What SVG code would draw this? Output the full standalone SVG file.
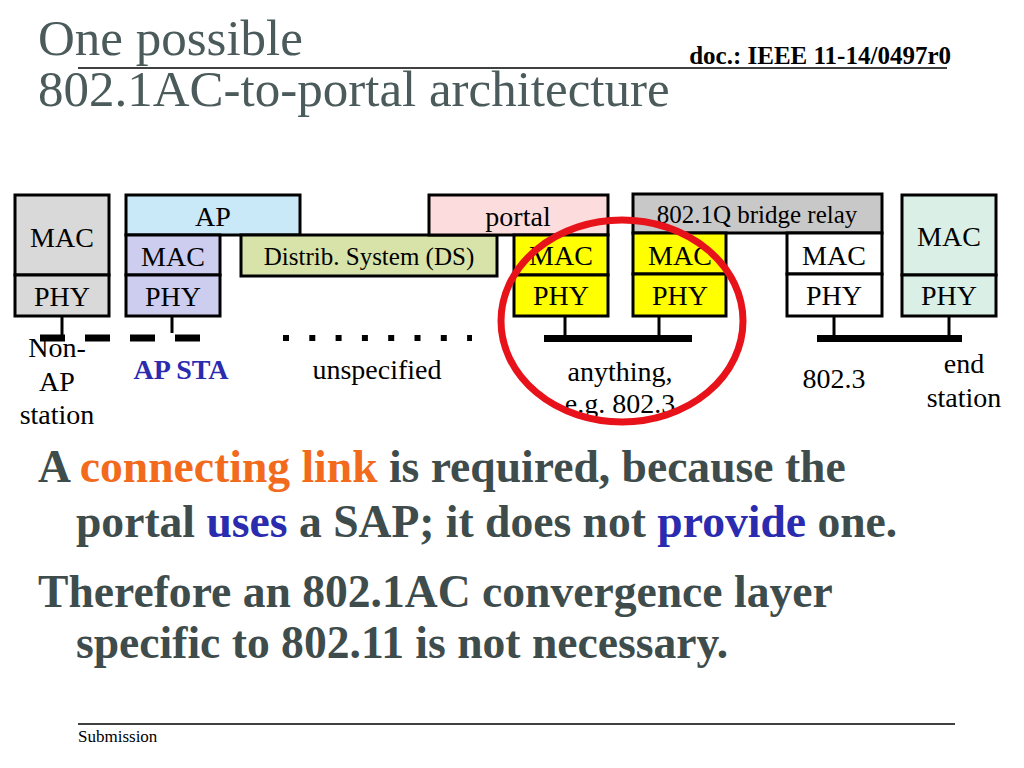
<svg xmlns="http://www.w3.org/2000/svg" width="1024" height="768" viewBox="0 0 1024 768">
<style>
.box{stroke:#000;stroke-width:3}
.t{font-family:"Liberation Serif","Times New Roman",serif;fill:#000}
.bt{font-size:28px;text-anchor:middle}
.st{font-size:25px;text-anchor:middle}
.lbl{font-size:28px;text-anchor:middle}
.title{font-family:"Liberation Serif","Times New Roman",serif;font-size:51px;fill:#4b5a5a}
.body{font-family:"Liberation Serif","Times New Roman",serif;font-size:45.6px;font-weight:bold;fill:#3f4c4c}
.stem{stroke:#000;stroke-width:3}
.bus{stroke:#000;stroke-width:7}
</style>
<rect width="1024" height="768" fill="#fff"/>
<g id="header">
<text class="title" x="38" y="55">One possible</text>
<text class="title" x="38" y="106">802.1AC-to-portal architecture</text>
<line x1="78" y1="68" x2="947" y2="68" stroke="#000" stroke-width="1.5"/>
<text class="t" x="951" y="64" font-size="25" font-weight="bold" text-anchor="end">doc.: IEEE 11-14/0497r0</text>
</g>
<g id="non-ap-station">
<rect class="box" x="15" y="195" width="94" height="80" fill="#d9d9d9"/>
<rect class="box" x="15" y="275" width="94" height="41" fill="#d9d9d9"/>
<text class="t bt" x="62" y="247">MAC</text>
<text class="t bt" x="62" y="306">PHY</text>
</g>
<g id="ap">
<rect class="box" x="126" y="195" width="174" height="40" fill="#c9e8f8"/>
<text class="t bt" x="213" y="226">AP</text>
</g>
<g id="ap-sta">
<rect class="box" x="126" y="235" width="94" height="40" fill="#cdcdf0"/>
<rect class="box" x="126" y="275" width="94" height="41" fill="#cdcdf0"/>
<text class="t bt" x="173" y="266">MAC</text>
<text class="t bt" x="173" y="306">PHY</text>
</g>
<g id="ds">
<rect class="box" x="241" y="235" width="256" height="41" fill="#d8e3a9"/>
<text class="t st" x="369" y="265">Distrib. System (DS)</text>
</g>
<g id="portal">
<rect class="box" x="429" y="195" width="179" height="40" fill="#fcdcdc"/>
<text class="t bt" x="518" y="226">portal</text>
<rect class="box" x="514" y="235" width="94" height="40" fill="#ffff00"/>
<rect class="box" x="514" y="275" width="94" height="41" fill="#ffff00"/>
<text class="t bt" x="561" y="265">MAC</text>
<text class="t bt" x="561" y="305">PHY</text>
</g>
<g id="bridge">
<rect class="box" x="633" y="194" width="249" height="39" fill="#c8c8c8"/>
<text class="t st" x="757" y="223">802.1Q bridge relay</text>
<rect class="box" x="633" y="233" width="93" height="41" fill="#ffff00"/>
<rect class="box" x="633" y="274" width="93" height="42" fill="#ffff00"/>
<text class="t bt" x="680" y="265">MAC</text>
<text class="t bt" x="680" y="305">PHY</text>
<rect class="box" x="787" y="233" width="95" height="41" fill="#ffffff"/>
<rect class="box" x="787" y="274" width="95" height="42" fill="#ffffff"/>
<text class="t bt" x="834" y="265">MAC</text>
<text class="t bt" x="834" y="305">PHY</text>
</g>
<g id="end-station">
<rect class="box" x="902" y="195" width="94" height="80" fill="#daefe5"/>
<rect class="box" x="902" y="275" width="94" height="41" fill="#daefe5"/>
<text class="t bt" x="949" y="246">MAC</text>
<text class="t bt" x="949" y="305">PHY</text>
</g>
<g id="connectors">
<line class="stem" x1="62" y1="316" x2="62" y2="338"/>
<line class="stem" x1="172" y1="316" x2="172" y2="333"/>
<line x1="40" y1="338" x2="205" y2="338" stroke="#000" stroke-width="7" stroke-dasharray="25 20"/>
<line x1="283" y1="338" x2="472" y2="338" stroke="#000" stroke-width="6" stroke-dasharray="6 20.3"/>
<line class="stem" x1="565" y1="316" x2="565" y2="338"/>
<line class="stem" x1="659" y1="316" x2="659" y2="338"/>
<line class="bus" x1="544" y1="338.5" x2="692" y2="338.5"/>
<line class="stem" x1="834" y1="316" x2="834" y2="338"/>
<line class="stem" x1="949" y1="316" x2="949" y2="338"/>
<line class="bus" x1="817" y1="338.5" x2="962" y2="338.5"/>
</g>
<g id="labels">
<text class="t lbl" x="57" y="357">Non-</text>
<text class="t lbl" x="57" y="391">AP</text>
<text class="t lbl" x="57" y="424">station</text>
<text class="t lbl" x="181" y="379" font-weight="bold" style="fill:#2b2bb0">AP STA</text>
<text class="t lbl" x="377" y="379">unspecified</text>
<text class="t lbl" x="620" y="381">anything,</text>
<text class="t lbl" x="620" y="413">e.g. 802.3</text>
<text class="t lbl" x="834" y="388">802.3</text>
<text class="t lbl" x="964" y="373">end</text>
<text class="t lbl" x="964" y="407">station</text>
</g>
<ellipse id="highlight" cx="622" cy="321" rx="121" ry="101" fill="none" stroke="#e8131a" stroke-width="7"/>
<g id="body-text">
<text class="body" x="38" y="482">A <tspan fill="#f26b1d">connecting link</tspan> is required, because the</text>
<text class="body" x="76" y="537">portal <tspan fill="#2b2bb0">uses</tspan> a SAP; it does not <tspan fill="#2b2bb0">provide</tspan> one.</text>
<text class="body" x="38" y="607">Therefore an 802.1AC convergence layer</text>
<text class="body" x="76" y="658">specific to 802.11 is not necessary.</text>
</g>
<g id="footer">
<line x1="78" y1="724" x2="955" y2="724" stroke="#000" stroke-width="1.5"/>
<text class="t" x="78" y="742" font-size="17">Submission</text>
</g>
</svg>
